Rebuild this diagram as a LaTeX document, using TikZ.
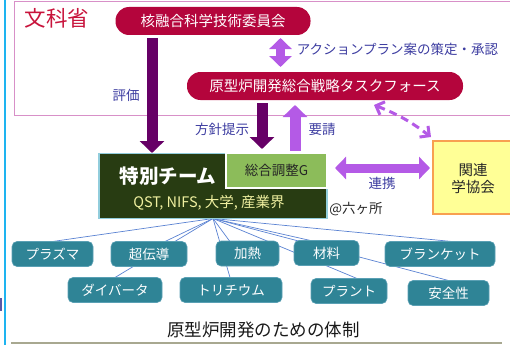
\documentclass[tikz,border=0pt]{standalone}
\usepackage{fontspec}
\setmainfont{Noto Sans CJK JP}
\usetikzlibrary{arrows.meta,calc,backgrounds}
\newcommand\jfs[1]{\fontsize{#1pt}{#1pt}\selectfont}
\definecolor{crim}{HTML}{B4053C}
\definecolor{mext}{HTML}{C8143C}
\definecolor{lblc}{HTML}{3C3CA0}
\definecolor{dpur}{HTML}{660066}
\definecolor{lpur}{HTML}{B45AE6}
\definecolor{teamg}{HTML}{283C12}
\definecolor{teamb}{HTML}{92CDDC}
\definecolor{qstc}{HTML}{F0F0A0}
\definecolor{gfill}{HTML}{8CBC5A}
\definecolor{yfill}{HTML}{FFFF96}
\definecolor{obord}{HTML}{F8A050}
\definecolor{tealc}{HTML}{2F8496}
\definecolor{tealb}{HTML}{5AA0B4}
\definecolor{fanc}{HTML}{5A82D2}
\definecolor{cyanl}{HTML}{1EB4F0}
\definecolor{framec}{HTML}{D890C8}
\definecolor{botl}{HTML}{A8A890}
\begin{document}
\begin{tikzpicture}[x=1pt,y=-1pt,
  every node/.style={inner sep=0pt,outer sep=0pt},
  pill/.style={fill=crim,rounded corners=13.5pt,text=white,font=\jfs{14.5},minimum height=28pt},
  tealbox/.style={fill=tealc,draw=tealb,line width=0.6pt,rounded corners=5pt,text=white,font=\jfs{13.5},minimum height=25pt},
  lbl/.style={text=lblc,font=\jfs{13.5}},
  darkarr/.style={draw=dpur,line width=11pt,-{Triangle[length=12pt,width=24pt]}},
  lightarr/.style={draw=lpur,line width=11pt,-{Triangle[length=12pt,width=24pt]}},
  dblarr/.style={draw=lpur,line width=9pt,{Triangle[length=11pt,width=22pt]}-{Triangle[length=11pt,width=22pt]}},
  dashlink/.style={draw=lpur,line width=3pt,dash pattern=on 8pt off 5pt,{Straight Barb[length=7pt,width=14pt]}-{Straight Barb[length=7pt,width=14pt]}},
  fan/.style={draw=fanc,line width=0.7pt}]
\useasboundingbox (0,0) rectangle (510,345);
\clip (0,0) rectangle (510,345);
% left edge
\fill[cyanl] (3.5,0) rectangle (6,345);
\fill[gray!70!blue] (0,298) rectangle (1.5,311);
% ministry frame
\draw[framec,line width=0.8pt] (515,1.5) -- (14.5,1.5) -- (14.5,115) -- (515,115);
\node[text=mext,font=\jfs{21.5}] (mext) at (57,18) {文科省};
% top nodes
\node[pill,minimum width=195pt] (cm) at (213,21) {核融合科学技術委員会};
\node[pill,minimum width=276pt] (tf) at (325,86) {原型炉開発総合戦略タスクフォース};
% team
\node[fill=teamg,draw=teamb,line width=1.5pt,minimum width=228pt,minimum height=65pt] (team) at (213,186) {};
\node[text=white,font=\bfseries\jfs{19.5}] (tname) at (168,176) {特別チーム};
\node[text=qstc,font=\jfs{14.5}] (tmem) at (209,203) {QST, NIFS, 大学, 産業界};
\node[fill=gfill,draw=white,line width=1.5pt,minimum width=101pt,minimum height=35pt,text=black!85,font=\jfs{13.5}] (g) at (276.5,170.5) {総合調整G};
% society
\node[fill=yfill,draw=obord,line width=1.2pt,minimum width=80pt,minimum height=73pt] (gk) at (473,177.5) {};
\node[align=center,font=\jfs{14.5},text=black!85] (gkt) at (473,178.5) {関連\\[2.5pt]学協会};
\node[font=\jfs{13.5},text=black!85] (rk) at (356,209) {@六ヶ所};
% arrows
\coordinate (ex) at (152,0);
\coordinate (dx) at (280.5,0);
\coordinate (hx) at (262,0);
\coordinate (yx) at (295,0);
\draw[darkarr] ($(cm.south -| ex)+(0,3)$) -- ($(team.north -| ex)+(0,-0.5)$);
\draw[dblarr] ($(cm.south -| dx)+(0,3)$) -- ($(tf.north -| dx)+(0,-5)$);
\draw[darkarr] ($(tf.south -| hx)+(0,3)$) -- ($(g.north -| hx)+(0,-4)$);
\draw[lightarr] ($(g.north -| yx)+(0,-2.5)$) -- ($(tf.south -| yx)+(0,5)$);
\draw[dblarr] ($(g.east)+(8,-2.5)$) -- ($(gk.west)+(-3,-9.5)$);
\draw[dashlink] ($(tf.south)+(49,5)$) to[bend left=8] ($(gk.north west)+(-2,-4)$);
% labels
\node[lbl] (l1) at (397.5,49) {アクションプラン案の策定・承認};
\node[lbl] (l2) at (126,95) {評価};
\node[lbl] (l3) at (222,129) {方針提示};
\node[lbl] (l4) at (322,129) {要請};
\node[lbl] (l5) at (382,183) {連携};
% teal boxes
\node[tealbox,minimum width=81pt] (pl) at (52.5,254) {プラズマ};
\node[tealbox,minimum width=76pt] (sc) at (149,254) {超伝導};
\node[tealbox,minimum width=63pt] (ka) at (247.5,253.5) {加熱};
\node[tealbox,minimum width=65pt] (za) at (326.5,253) {材料};
\node[tealbox,minimum width=110pt] (bl) at (440,254) {ブランケット};
\node[tealbox,minimum width=94pt] (dv) at (115,290) {ダイバータ};
\node[tealbox,minimum width=102pt] (tr) at (231,290) {トリチウム};
\node[tealbox,minimum width=76pt] (pn) at (349,291) {プラント};
\node[tealbox,minimum width=81pt] (an) at (448.5,293) {安全性};
% fan lines (behind boxes)
\begin{scope}[on background layer]
\draw[fan] (team.south) -- (pl.north);
\draw[fan] (team.south) -- ($(sc.north)+(16,0)$);
\draw[fan] (team.south) -- ($(dv.north)+(0,0)$);
\draw[fan] (team.south) -- ($(ka.north)+(-18,0)$);
\draw[fan] (team.south) -- ($(tr.north)+(-1,0)$);
\draw[fan] (team.south) -- ($(za.north)+(-16,0)$);
\draw[fan] (team.south) -- ($(pn.north)+(8,0)$);
\draw[fan] (team.south) -- (an.north);
\draw[fan] (team.south) -- ($(bl.north)+(12,0)$);
\end{scope}
% bottom
\node[font=\jfs{17.5},text=black!90] (title) at (263.5,330) {原型炉開発のための体制};
\draw[botl,line width=1.5pt] (11,343) -- (502,343);
\end{tikzpicture}
\end{document}
